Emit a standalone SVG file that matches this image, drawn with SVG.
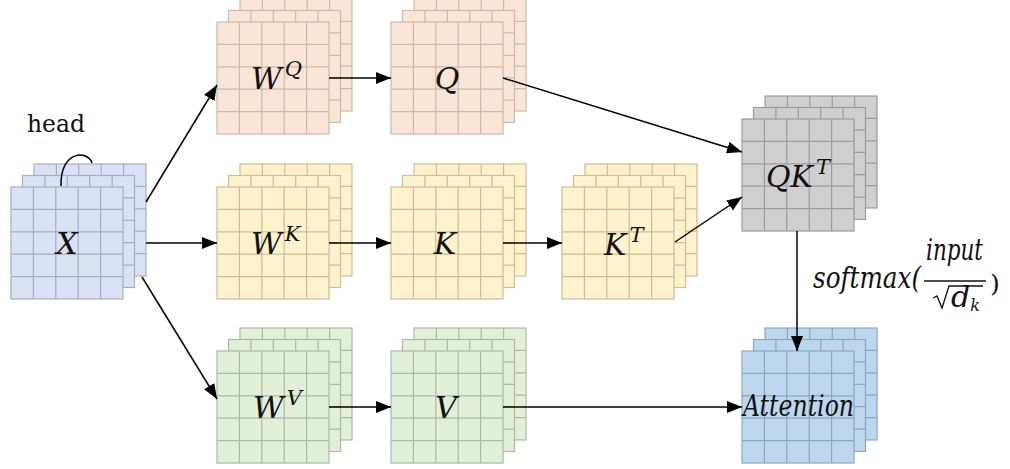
<svg xmlns="http://www.w3.org/2000/svg" xmlns:xlink="http://www.w3.org/1999/xlink" width="1010" height="469" viewBox="0 0 1010 469">
<style>
.m{font-family:'DejaVu Serif',serif;font-style:italic;font-size:30px;fill:#111}
.sup{font-size:21px}
.t{font-family:'DejaVu Serif',serif;font-size:25px;fill:#111}
.blue{fill:#dae3f3;stroke:#a3afc4}
.peach{fill:#fbe5d6;stroke:#cdb9aa}
.yellow{fill:#fff2cc;stroke:#cbbd96}
.green{fill:#e2f0d9;stroke:#abbba0}
.gray{fill:#d0d0d0;stroke:#9c9c9c}
.sky{fill:#bdd7ee;stroke:#8ea6be}
.conn line{stroke:#000;stroke-width:1.5;fill:none}
</style>
<defs>
<g id="layer">
<rect x="0" y="0" width="112" height="112" stroke-width="1.2"/>
<path d="M22.4 0V112M44.8 0V112M67.2 0V112M89.6 0V112M0 22.4H112M0 44.8H112M0 67.2H112M0 89.6H112" fill="none" stroke-width="1.2"/>
</g>
<g id="stack">
<use xlink:href="#layer" x="23" y="-23"/>
<use xlink:href="#layer" x="11.5" y="-11.5"/>
<use xlink:href="#layer" x="0" y="0"/>
</g>
<marker id="ah" markerUnits="userSpaceOnUse" markerWidth="15" markerHeight="12" refX="15" refY="6" orient="auto">
<path d="M0,0 L15,6 L0,12 z" fill="#000"/>
</marker>
</defs>

<g id="node-X">
<use xlink:href="#stack" class="blue" x="11" y="187"/>
<text class="m" x="67" y="254" text-anchor="middle">X</text>
<text class="t" x="27" y="132" textLength="58" lengthAdjust="spacingAndGlyphs">head</text>
<path d="M61 186 C60 150 88 150 92 163" fill="none" stroke="#000" stroke-width="1.5"/>
</g>

<g id="node-WQ">
<use xlink:href="#stack" class="peach" x="217" y="22"/>
<text class="m" x="251" y="89">W<tspan class="sup" dx="3" dy="-13">Q</tspan></text>
</g>
<g id="node-Q">
<use xlink:href="#stack" class="peach" x="391" y="22"/>
<text class="m" x="447" y="89" text-anchor="middle">Q</text>
</g>

<g id="node-WK">
<use xlink:href="#stack" class="yellow" x="217" y="187"/>
<text class="m" x="251" y="254">W<tspan class="sup" dx="3" dy="-13">K</tspan></text>
</g>
<g id="node-K">
<use xlink:href="#stack" class="yellow" x="391" y="187"/>
<text class="m" x="445" y="254" text-anchor="middle">K</text>
</g>
<g id="node-KT">
<use xlink:href="#stack" class="yellow" x="562" y="187"/>
<text class="m" x="604" y="255">K<tspan class="sup" dx="3" dy="-13">T</tspan></text>
</g>

<g id="node-WV">
<use xlink:href="#stack" class="green" x="217" y="351"/>
<text class="m" x="253" y="418">W<tspan class="sup" dx="3" dy="-13">V</tspan></text>
</g>
<g id="node-V">
<use xlink:href="#stack" class="green" x="391" y="351"/>
<text class="m" x="446" y="418" text-anchor="middle">V</text>
</g>

<g id="node-QKT">
<use xlink:href="#stack" class="gray" x="742" y="119"/>
<text class="m" x="766" y="187">QK<tspan class="sup" dx="3" dy="-13">T</tspan></text>
</g>

<g id="node-Attention">
<use xlink:href="#stack" class="sky" x="742" y="351"/>
<text class="m" x="743" y="416" textLength="111" lengthAdjust="spacingAndGlyphs">Attention</text>
</g>

<g id="softmax-label">
<text class="m" x="813" y="288" font-size="24" textLength="108" lengthAdjust="spacingAndGlyphs">softmax(</text>
<text class="m" x="926" y="260" font-size="24" textLength="57" lengthAdjust="spacingAndGlyphs">input</text>
<line x1="924" y1="281" x2="986" y2="281" stroke="#111" stroke-width="1.3"/>
<path d="M933 298 L937 296 L942 308 L949 286 L983 286" fill="none" stroke="#111" stroke-width="1.3"/>
<text class="m" x="951" y="307" font-size="24">d<tspan font-size="16" dy="4">k</tspan></text>
<text class="t" x="990" y="292" font-size="26">)</text>
</g>

<g id="connectors" class="conn">
<line x1="146" y1="202" x2="217" y2="85" marker-end="url(#ah)"/>
<line x1="146" y1="243" x2="217" y2="243" marker-end="url(#ah)"/>
<line x1="142" y1="277" x2="217" y2="399" marker-end="url(#ah)"/>
<line x1="329" y1="78" x2="391" y2="78" marker-end="url(#ah)"/>
<line x1="329" y1="243" x2="391" y2="243" marker-end="url(#ah)"/>
<line x1="503" y1="243" x2="562" y2="243" marker-end="url(#ah)"/>
<line x1="329" y1="407" x2="391" y2="407" marker-end="url(#ah)"/>
<line x1="503" y1="78" x2="742" y2="152" marker-end="url(#ah)"/>
<line x1="675" y1="242" x2="742" y2="197" marker-end="url(#ah)"/>
<line x1="503" y1="407" x2="742" y2="407" marker-end="url(#ah)"/>
<line x1="797" y1="231" x2="797" y2="351" marker-end="url(#ah)"/>
</g>
</svg>
